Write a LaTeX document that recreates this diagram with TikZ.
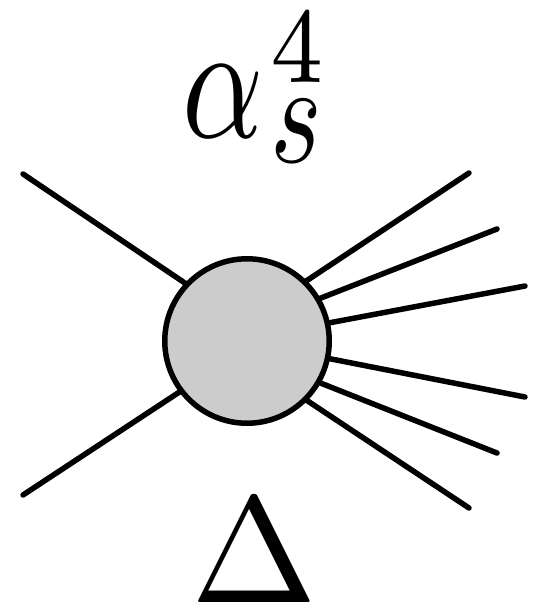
\documentclass[tikz,border=0pt]{standalone}
\usetikzlibrary{positioning}
\tikzset{
  leg/.style={line width=0.11cm, line cap=round},
  blob/.style={circle, draw, line width=0.11cm, fill=black!20, minimum size=3.29cm, inner sep=0pt}
}

\begin{document}
\begin{tikzpicture}[x=0.02cm, y=-0.02cm]
  \useasboundingbox (0,0) rectangle (539,605);

  % incoming legs
  \coordinate (in1) at (23,174);
  \coordinate (in2) at (23,495);
  \coordinate (m1) at (225,310);
  \coordinate (m2) at (225,362);
  \draw[leg] (in1) -- (m1);
  \draw[leg] (in2) -- (m2);

  % outgoing legs
  \coordinate (out1) at (469,173);
  \coordinate (out2) at (497,229);
  \coordinate (out3) at (525,286);
  \coordinate (out4) at (525,397);
  \coordinate (out5) at (497,453);
  \coordinate (out6) at (469,508);
  \coordinate (n1) at (270,305);
  \coordinate (n2) at (270,318);
  \coordinate (n3) at (270,334);
  \coordinate (n4) at (270,347);
  \coordinate (n5) at (270,363);
  \coordinate (n6) at (270,376);
  \foreach \i in {1,...,6}
    \draw[leg] (out\i) -- (n\i);

  % the blob
  \node[blob] (core) at (247,341) {};

  % labels
  \node[anchor=base west, inner sep=0pt, xscale=7.2, yscale=9.5] (coupling) at (180,137)
    {$\alpha\mkern1mu\rlap{\raisebox{3.28pt}{\scalebox{1.06}[0.92]{$\scriptstyle 4$}}}%
      \raisebox{-1.55pt}{\scalebox{0.87}[0.87]{$s$}}$};
  \node[anchor=base, inner sep=0pt, scale=8.6] (delta) at (254,602) {$\Delta$};
\end{tikzpicture}
\end{document}
